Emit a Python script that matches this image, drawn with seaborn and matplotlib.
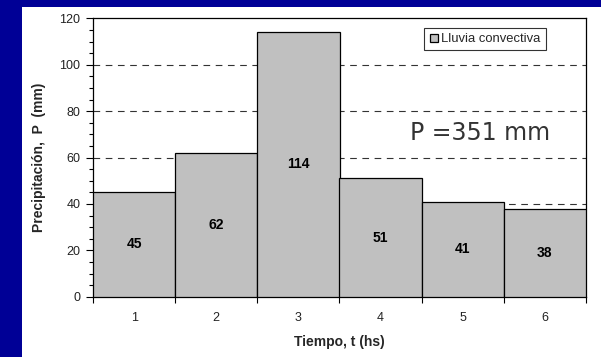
import matplotlib
matplotlib.use("Agg")
import matplotlib.pyplot as plt
from matplotlib.patches import Rectangle
from matplotlib.ticker import MultipleLocator, FixedLocator
import seaborn as sns
import pandas as pd

# Hourly convective rainfall
hours = ["1", "2", "3", "4", "5", "6"]
rain_mm = [45, 62, 114, 51, 41, 38]
series_name = "Lluvia convectiva"
total_label = "P =351 mm"

sns.set_theme(style="white")
plt.rcParams["font.family"] = ["Liberation Sans", "DejaVu Sans"]

df = pd.DataFrame({"t": hours, "P": rain_mm})

fig = plt.figure(figsize=(6.01, 3.57), dpi=100)
fig.patch.set_facecolor("#000096")

# white slide panel behind the chart
bg = fig.add_axes([0, 0, 1, 1], zorder=-10)
bg.set_axis_off()
bg.set_xlim(0, 601)
bg.set_ylim(357, 0)
bg.add_patch(Rectangle((22, 7), 579, 350, facecolor="white", edgecolor="none"))

ax = fig.add_axes([93 / 601, 1 - 296.7 / 357, 493 / 601, 278.4 / 357])
ax.set_facecolor("white")

sns.barplot(data=df, x="t", y="P", ax=ax, color="#C0C0C0", width=1.0,
            edgecolor="black", linewidth=0.9, saturation=1, zorder=3,
            label=series_name)

for i, v in enumerate(rain_mm):
    ax.text(i, v / 2, f"{v}", ha="center", va="center", fontsize=10,
            fontweight="bold", color="black", zorder=4)

ax.set_ylim(0, 120)
ax.set_xlim(-0.5, len(hours) - 0.5)
ax.yaxis.set_major_locator(MultipleLocator(20))
ax.yaxis.set_minor_locator(MultipleLocator(5))
ax.xaxis.set_minor_locator(FixedLocator([i - 0.5 for i in range(len(hours) + 1)]))

ax.tick_params(axis="y", which="major", direction="out", length=5, width=0.8,
               color="black", labelsize=9, pad=4, left=True, labelcolor="#222222")
ax.tick_params(axis="y", which="minor", direction="out", length=3, width=0.8,
               color="black", left=True)
ax.tick_params(axis="x", which="major", length=0, labelsize=9, pad=11,
               labelcolor="#222222")
ax.tick_params(axis="x", which="minor", direction="out", length=4, width=0.8,
               color="black", bottom=True)

for y in [20, 40, 60, 80, 100]:
    ax.axhline(y, color="#333333", linestyle=(0, (6, 5)), linewidth=0.8, zorder=1)

for s in ax.spines.values():
    s.set_visible(True)
    s.set_color("black")
    s.set_linewidth(0.9)

ax.set_xlabel("Tiempo, t (hs)", fontsize=10, fontweight="bold", labelpad=8)
ax.set_ylabel("Precipitación,  P  (mm)", fontsize=10, fontweight="bold",
              labelpad=10)

leg = ax.legend(loc="upper right", bbox_to_anchor=(0.919, 0.965), fontsize=9.4,
                frameon=True, fancybox=False, edgecolor="black",
                handlelength=0.6, handleheight=0.6, handletextpad=0.3,
                borderpad=0.4, borderaxespad=0)
leg.get_frame().set_linewidth(0.8)

ax.text(0.785, 0.588, total_label, transform=ax.transAxes, ha="center",
        va="center", fontsize=17, color="#333333", family="DejaVu Sans")

fig.savefig("out.png", dpi=100, facecolor=fig.get_facecolor())
